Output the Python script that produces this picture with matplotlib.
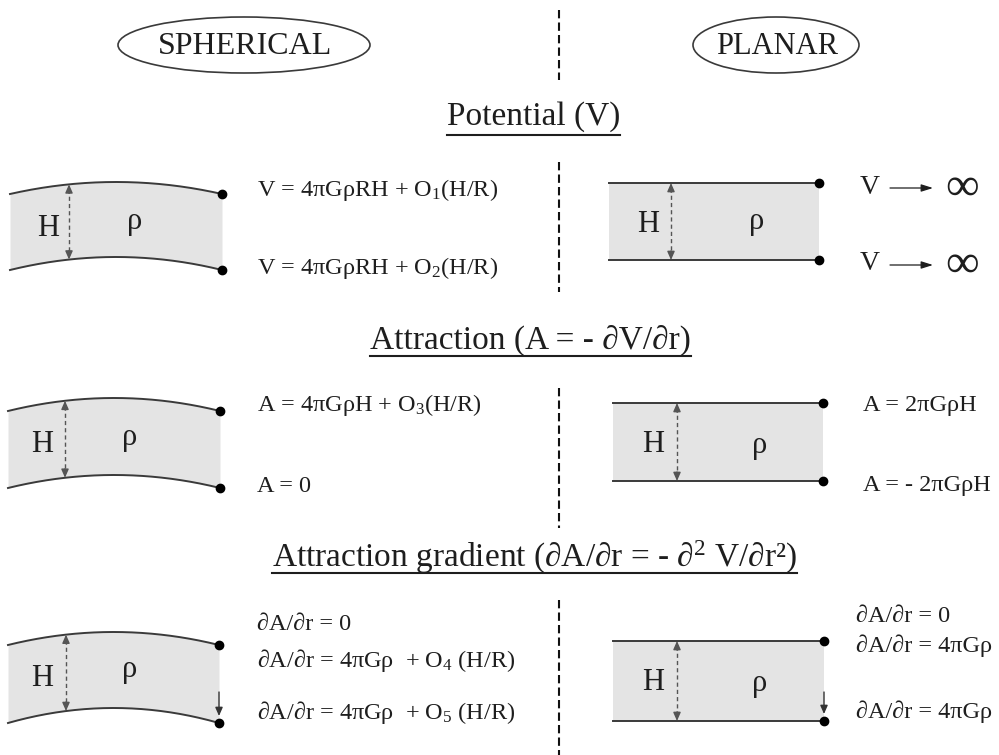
import numpy as np
import matplotlib
matplotlib.use("Agg")
import matplotlib.pyplot as plt
from matplotlib.patches import Ellipse

plt.rcParams['font.family'] = ['Liberation Serif', 'DejaVu Serif']
plt.rcParams['mathtext.fontset'] = 'custom'
plt.rcParams['mathtext.rm'] = 'Liberation Serif'

# ---- content ----
column_titles = ["SPHERICAL", "PLANAR"]
section_titles = ["Potential (V)",
                  "Attraction (A = - ∂V/∂r)",
                  "Attraction gradient (∂A/∂r = - ∂$\\mathregular{^2}$ V/∂r²)"]
spherical_eqs = [
    ["V = 4πGρRH + O$\\mathregular{_1}$(H/R)", "V = 4πGρRH + O$\\mathregular{_2}$(H/R)"],
    ["A = 4πGρH + O$\\mathregular{_3}$(H/R)", "A = 0"],
    ["∂A/∂r = 0", "∂A/∂r = 4πGρ  + O$\\mathregular{_4}$ (H/R)", "∂A/∂r = 4πGρ  + O$\\mathregular{_5}$ (H/R)"],
]
planar_eqs = [
    [("V", "∞"), ("V", "∞")],
    ["A = 2πGρH", "A = - 2πGρH"],
    ["∂A/∂r = 0", "∂A/∂r = 4πGρ", "∂A/∂r = 4πGρ"],
]

# ---- layout (pixel coordinates) ----
W, H = 999, 755
fig = plt.figure(figsize=(W / 100, H / 100), dpi=100)
ax = fig.add_axes([0, 0, 1, 1])
ax.set_xlim(0, W)
ax.set_ylim(H, 0)
ax.axis('off')

INK = '#1e1e1e'
LINE = '#3a3a3a'
FILL = '#e4e4e4'
ARR = '#555555'
EQ_FS = 17.5

# central dashed divider
for y0, y1 in [(10, 80), (162, 292), (388, 528), (600, 755)]:
    ax.plot([559, 559], [y0, y1], color='#111111', lw=1.5, ls=(0, (4, 2)), solid_capstyle='butt')

# column titles in ellipses
ax.add_patch(Ellipse((244, 45), 252, 56, fill=False, ec=LINE, lw=1.2))
ax.add_patch(Ellipse((776, 45), 166, 56, fill=False, ec=LINE, lw=1.2))
ax.text(245, 46, column_titles[0], fontsize=23, ha='center', va='center', color=INK)
ax.text(777, 46, column_titles[1], fontsize=22, ha='center', va='center', color=INK)

# section headings (underlined)
head_pos = [(447, 117), (370, 340), (272, 557)]
head_texts = []
for (hx, hy), t in zip(head_pos, section_titles):
    head_texts.append(ax.text(hx, hy, t, fontsize=24, ha='left', va='center', color=INK))


def dashed_arrow(x, yt, yb):
    ax.plot([x, x], [yt + 5, yb - 5], color=ARR, lw=1.0, ls=(0, (3, 2.2)))
    for ya, yb2 in [(yt, yt + 9), (yb, yb - 9)]:
        ax.annotate('', xy=(x, ya), xytext=(x, yb2),
                    arrowprops=dict(arrowstyle='-|>,head_length=0.5,head_width=0.22',
                                    color=ARR, lw=1.0, shrinkA=0, shrinkB=0))


def small_arrow(x, y0, y1):
    ax.annotate('', xy=(x, y1), xytext=(x, y0),
                arrowprops=dict(arrowstyle='-|>,head_length=0.5,head_width=0.22',
                                color='#333333', lw=1.0, shrinkA=0, shrinkB=0))


def sph_slab(x0, x1, ytop, ybot, sag_t, sag_b, xa, Hxy, rxy):
    xs = np.linspace(x0, x1, 200)
    xc, hw = (x0 + x1) / 2, (x1 - x0) / 2
    f = lambda x: 1 - ((x - xc) / hw) ** 2
    top = ytop - sag_t * f(xs)
    bot = ybot - sag_b * f(xs)
    ax.fill_between(xs, top, bot, color=FILL, lw=0)
    ax.plot(xs, top, color=LINE, lw=1.4)
    ax.plot(xs, bot, color=LINE, lw=1.4)
    dashed_arrow(xa, ytop - sag_t * f(xa), ybot - sag_b * f(xa))
    ax.text(*Hxy, "H", fontsize=22, ha='center', va='center', color=INK)
    ax.text(*rxy, "ρ", fontsize=22, ha='center', va='center', color=INK)
    return x1, ytop, ybot


def pl_slab(x0, x1, ytop, ybot, xa, Hxy, rxy):
    ax.fill_between([x0, x1], [ytop, ytop], [ybot, ybot], color=FILL, lw=0)
    ax.plot([x0, x1], [ytop, ytop], color=LINE, lw=1.4)
    ax.plot([x0, x1], [ybot, ybot], color=LINE, lw=1.4)
    dashed_arrow(xa, ytop, ybot)
    ax.text(*Hxy, "H", fontsize=22, ha='center', va='center', color=INK)
    ax.text(*rxy, "ρ", fontsize=22, ha='center', va='center', color=INK)
    return x1, ytop, ybot


DOT = dict(marker='o', ms=6, color='black', ls='none', zorder=5)

# ---- section 1 ----
xr, yt, yb = sph_slab(10, 222, 194, 270, 12, 13, 69, (48, 229), (135, 222))
ax.plot([xr, xr], [yt, yb], **DOT)
xr, yt, yb = pl_slab(609, 819, 183, 260, 671, (648, 224), (757, 221))
ax.plot([xr, xr], [yt, yb], **DOT)

# ---- section 2 ----
xr, yt, yb = sph_slab(8, 220, 411, 488, 13, 13, 65, (42, 445), (130, 437))
ax.plot([xr, xr], [yt, yb], **DOT)
xr, yt, yb = pl_slab(613, 823, 403, 481, 677, (653, 445), (760, 445))
ax.plot([xr, xr], [yt, yb], **DOT)

# ---- section 3 ----
xr, yt, yb = sph_slab(8, 219, 645, 723, 13, 15, 66, (42, 679), (130, 670))
ax.plot([xr, xr], [yt, yb], **DOT)
small_arrow(219, 692, 716)
xr, yt, yb = pl_slab(613, 824, 641, 721, 677, (653, 682), (760, 683))
ax.plot([xr, xr], [yt, yb], **DOT)
small_arrow(824, 692, 714)

# ---- equations ----
sph_y = [[190, 268], [405, 487], [625, 661, 713]]
pl_y = [[187, 264], [405, 486], [617, 646, 712]]
for eqs, ys in zip(spherical_eqs, sph_y):
    for t, y in zip(eqs, ys):
        ax.text(257, y, t, fontsize=EQ_FS, ha='left', va='center', color=INK)

# planar potential: V -> infinity
for (v, inf), y in zip(planar_eqs[0], pl_y[0]):
    ax.text(860, y, v, fontsize=20, ha='left', va='center', color=INK)
    ax.annotate('', xy=(933, y + 1), xytext=(890, y + 1),
                arrowprops=dict(arrowstyle='-|>,head_length=0.7,head_width=0.22',
                                color=INK, lw=0.9, shrinkA=0, shrinkB=0))
    ax.text(962, y + 1, inf, fontsize=34, ha='center', va='center', color=INK)

pl_x = [863, 856]
for eqs, ys, px in zip(planar_eqs[1:], pl_y[1:], pl_x):
    for t, y in zip(eqs, ys):
        ax.text(px, y, t, fontsize=EQ_FS, ha='left', va='center', color=INK)

# underline headings
fig.canvas.draw()
r = fig.canvas.get_renderer()
inv = ax.transData.inverted()
for t, uy in zip(head_texts, [135, 356, 573]):
    bb = t.get_window_extent(r)
    (xa, _), (xb, _) = inv.transform([(bb.x0, bb.y0), (bb.x1, bb.y1)])
    ax.plot([xa, xb], [uy, uy], color=INK, lw=1.5)

fig.savefig("out.png", dpi=100)
